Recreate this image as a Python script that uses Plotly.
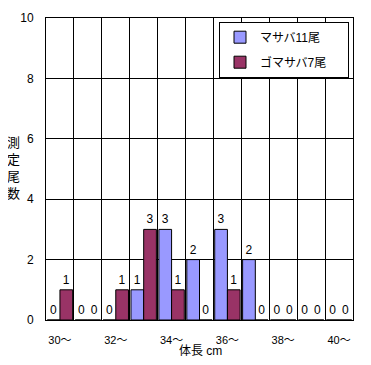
import plotly.graph_objects as go

categories = ["30〜", "31〜", "32〜", "33〜", "34〜", "35〜", "36〜", "37〜", "38〜", "39〜", "40〜"]
masaba = [0, 0, 0, 1, 3, 2, 3, 2, 0, 0, 0]
gomasaba = [1, 0, 1, 3, 1, 0, 1, 0, 0, 0, 0]
tick_text = [c if i % 2 == 0 else "" for i, c in enumerate(categories)]
series_names = ["マサバ11尾", "ゴマサバ7尾"]

FONT = "Liberation Sans, Arial, Noto Sans CJK JP, sans-serif"
PAD = "\u00a0" * 5

fig = go.Figure()
fig.add_trace(go.Bar(
    x=categories, y=masaba, name=series_names[0] + PAD, legendgroup="a",
    marker=dict(color="#9999FF", line=dict(color="black", width=1)),
    text=masaba, textposition="outside", cliponaxis=False,
    textfont=dict(size=12, color="black", family=FONT),
))
fig.add_trace(go.Bar(
    x=categories, y=gomasaba, name=series_names[1] + PAD, legendgroup="b",
    marker=dict(color="#993366", line=dict(color="black", width=1)),
    text=gomasaba, textposition="outside", cliponaxis=False,
    textfont=dict(size=12, color="black", family=FONT),
))

# page body has an 8px default margin, so the figure is offset by 8px
OFF = 8
W, H = 371 - OFF, 365 - OFF
L, R, T, B = 46 - OFF, 18, 18 - OFF, 45
PW, PH = W - L - R, H - T - B

def px_x(x):  # screen x -> paper x
    return (x - OFF - L) / PW

def px_y(y):  # screen y -> paper y
    return (H - B - (y - OFF)) / PH

fig.update_layout(
    width=W, height=H,
    margin=dict(l=L, r=R, t=T, b=B, autoexpand=False),
    paper_bgcolor="white", plot_bgcolor="white",
    font=dict(family=FONT, size=11, color="black"),
    barmode="group", bargap=0.09, bargroupgap=0.0,
    showlegend=True,
    legend=dict(
        x=px_x(219), y=px_y(21.7),
        xanchor="left", yanchor="top",
        bgcolor="white", bordercolor="black", borderwidth=1,
        font=dict(size=12, family=FONT), tracegroupgap=6,
        itemwidth=30,
    ),
)
fig.update_xaxes(
    type="category", tickmode="array", tickvals=categories, ticktext=tick_text,
    tickson="boundaries", showgrid=True, gridcolor="black", gridwidth=1,
    showline=True, linecolor="black", linewidth=1, mirror=True,
    ticks="", ticklabelstandoff=10, tickfont=dict(size=11), tickangle=0,
    range=[-0.5, len(categories) - 0.5], automargin=False,
)
fig.update_yaxes(
    range=[0, 10], dtick=2, showgrid=True, gridcolor="black", gridwidth=1,
    showline=True, linecolor="black", linewidth=1, mirror=True,
    ticks="", ticklabelstandoff=9, tickfont=dict(size=12), zeroline=False,
    automargin=False,
)
fig.add_annotation(
    text="測<br>定<br>尾<br>数", xref="paper", yref="paper",
    x=px_x(13), y=px_y(168), xanchor="center", yanchor="middle",
    showarrow=False, font=dict(size=13), align="center",
)
fig.add_annotation(
    text="体長 cm", xref="paper", yref="paper",
    x=px_x(200), y=px_y(351), xanchor="center", yanchor="middle",
    showarrow=False, font=dict(size=12),
)
fig.write_html("out.html")
